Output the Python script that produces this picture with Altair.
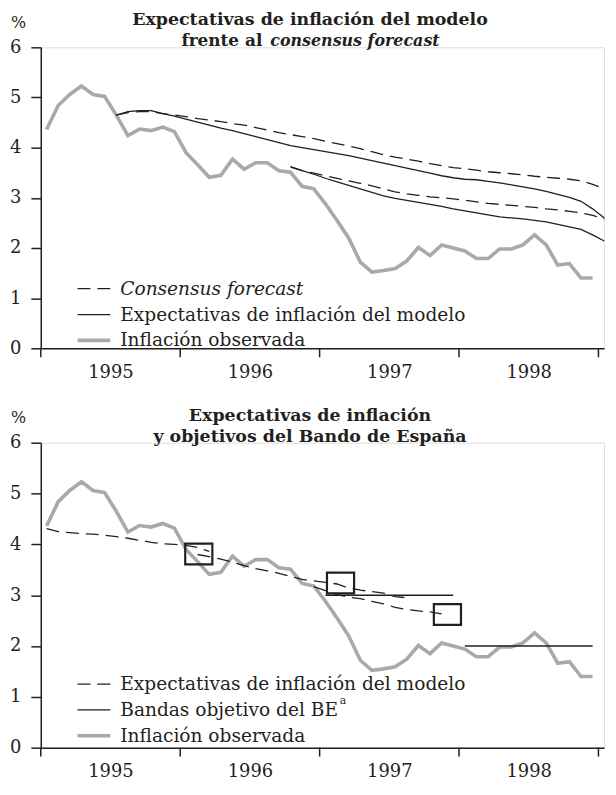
import altair as alt
import pandas as pd

FONT = "DejaVu Serif"
INK = "#231f20"
GREY = "#a7a9ac"

# ---------------- data (month index 0 = Jan 1995, plotted at mid-month) ----------
year_ticks = [1995, 1996, 1997, 1998, 1999]
year_labels = [1995, 1996, 1997, 1998]

observed = [4.36, 4.84, 5.06, 5.23, 5.06, 5.02, 4.65, 4.24, 4.37, 4.34, 4.41, 4.32,
            3.90, 3.66, 3.41, 3.45, 3.77, 3.57, 3.70, 3.70, 3.54, 3.51, 3.23, 3.18,
            2.88, 2.55, 2.20, 1.72, 1.52, 1.55, 1.59, 1.74, 2.01, 1.85, 2.06, 2.00,
            1.94, 1.79, 1.79, 1.98, 1.98, 2.06, 2.26, 2.06, 1.66, 1.69, 1.40, 1.40]

# top panel: model expectations and consensus forecast (two vintages each)
model_a_start = 6
model_a = [4.65, 4.72, 4.74, 4.74, 4.68, 4.63, 4.57, 4.51, 4.45, 4.39, 4.34, 4.28,
           4.22, 4.16, 4.10, 4.04, 4.00, 3.96, 3.92, 3.88, 3.84, 3.79, 3.74, 3.69,
           3.64, 3.59, 3.54, 3.49, 3.44, 3.40, 3.37, 3.36, 3.33, 3.30, 3.26, 3.22,
           3.18, 3.13, 3.07, 3.01, 2.93, 2.78, 2.60]
cons_a_start = 6
cons_a = [4.65, 4.70, 4.72, 4.72, 4.68, 4.65, 4.62, 4.58, 4.55, 4.52, 4.48, 4.45,
          4.40, 4.35, 4.30, 4.26, 4.22, 4.18, 4.13, 4.08, 4.03, 3.98, 3.92, 3.86,
          3.81, 3.77, 3.73, 3.68, 3.64, 3.60, 3.58, 3.55, 3.52, 3.50, 3.48, 3.46,
          3.43, 3.41, 3.39, 3.37, 3.34, 3.27, 3.18]
model_b_start = 21
model_b = [3.62, 3.54, 3.47, 3.39, 3.32, 3.25, 3.18, 3.11, 3.04, 2.99, 2.95, 2.91,
           2.87, 2.83, 2.78, 2.74, 2.70, 2.66, 2.62, 2.60, 2.58, 2.55, 2.52, 2.47,
           2.42, 2.37, 2.26, 2.14]
cons_b_start = 21
cons_b = [3.61, 3.54, 3.49, 3.44, 3.39, 3.34, 3.29, 3.24, 3.18, 3.12, 3.08, 3.05,
          3.02, 3.00, 2.98, 2.95, 2.92, 2.89, 2.87, 2.85, 2.83, 2.81, 2.78, 2.76,
          2.73, 2.70, 2.65, 2.58]

# bottom panel: model expectations (three vintages), BE target bands, target marks
exp_a_start = 0
exp_a = [4.31, 4.25, 4.23, 4.21, 4.20, 4.18, 4.15, 4.12, 4.08, 4.04, 4.01, 4.00,
         3.98, 3.94, 3.86]
exp_b_start = 13
exp_b = [3.80, 3.76, 3.71, 3.65, 3.58, 3.52, 3.48, 3.43, 3.37, 3.31, 3.28, 3.25,
         3.22, 3.14, 3.10, 3.07, 3.04, 2.97, 2.95]
exp_c_start = 23
exp_c = [3.17, 3.09, 3.01, 2.96, 2.93, 2.88, 2.83, 2.76, 2.72, 2.69, 2.67, 2.63]

band_value = [3.0, 2.0]
band_first = [24, 36]
band_last = [35, 47]

target_month = [13.1, 25.3, 34.5]
target_value = [3.81, 3.24, 2.62]


def mx(m):
    return 1995 + (m + 0.5) / 12


def seg(start, vals, name):
    return pd.DataFrame({"x": [mx(start + i) for i in range(len(vals))],
                         "v": vals, "seg": name})


obs_df = seg(0, observed, "obs")
model_df = pd.concat([seg(model_a_start, model_a, "a"), seg(model_b_start, model_b, "b")])
cons_df = pd.concat([seg(cons_a_start, cons_a, "a"), seg(cons_b_start, cons_b, "b")])
exp_df = pd.concat([seg(exp_a_start, exp_a, "a"), seg(exp_b_start, exp_b, "b"),
                    seg(exp_c_start, exp_c, "c")])
band_df = pd.DataFrame({"x": [mx(m) for m in band_first], "x2": [mx(m) for m in band_last],
                        "v": band_value})
target_df = pd.DataFrame({"x": [mx(m) for m in target_month], "v": target_value})
tick_df = pd.DataFrame({"x": year_ticks})

# ---------------- layout ----------------
W = 567
H_TOP = 303
H_BOT = 307

xscale = alt.Scale(domain=[1995, 1999.04], nice=False, zero=False)
yscale = alt.Scale(domain=[0, 6], nice=False)

xaxis = alt.Axis(values=[y + 0.5 for y in year_labels],
                 labelExpr="'' + floor(datum.value)",
                 labelFlush=False, labelOverlap=False, labelBound=False,
                 ticks=False, tickSize=0, labelPadding=15, labelBaseline="top",
                 grid=False, title=None,
                 domainColor=INK, domainWidth=1.5,
                 labelFont=FONT, labelFontSize=18, labelColor=INK)


def yaxis():
    return alt.Axis(values=[0, 1, 2, 3, 4, 5, 6], tickSize=10, labelPadding=10,
                    grid=False, title="%", titleAngle=0, titleX=-23, titleY=-25,
                    titleAlign="center", titleBaseline="middle", titleFont=FONT,
                    titleFontSize=16, titleFontWeight="normal", titleColor=INK,
                    domainColor=INK, tickColor=INK, domainWidth=1.5, tickWidth=1.5,
                    labelFont=FONT, labelFontSize=18, labelColor=INK)


def X():
    return alt.X("x:Q", scale=xscale, axis=xaxis)


def Y():
    return alt.Y("v:Q", scale=yscale, axis=yaxis())


def txt(x, y, s, size=18.7, weight="normal", style="normal", align="left",
        baseline="middle", color=INK):
    return alt.Chart().mark_text(font=FONT, fontSize=size, fontWeight=weight,
                                 fontStyle=style, align=align, baseline=baseline,
                                 color=color).encode(
        x=alt.value(x), y=alt.value(y), text=alt.value(s))


def key(y, dash=None, color=INK, width=1.3):
    kw = dict(color=color, strokeWidth=width)
    if dash:
        kw["strokeDash"] = dash
    return alt.Chart().mark_rule(**kw).encode(
        x=alt.value(37), x2=alt.value(70), y=alt.value(y))


def year_ticks_layer(h):
    return alt.Chart(tick_df).mark_rule(color=INK, strokeWidth=1.5).encode(
        x=X(), y=alt.value(h), y2=alt.value(h + 9))


DASH = [13, 7]
LEG_TOP = [243, 269, 295]
LEG_BOT = [243, 269, 295]

# ---------------- top panel ----------------
top_obs = alt.Chart(obs_df).mark_line(color=GREY, strokeWidth=3.6).encode(x=X(), y=Y())
top_model = alt.Chart(model_df).mark_line(color=INK, strokeWidth=1.3).encode(
    x=X(), y=Y(), detail="seg:N")
top_cons = alt.Chart(cons_df).mark_line(color=INK, strokeWidth=1.3, strokeDash=DASH).encode(
    x=X(), y=Y(), detail="seg:N")

top = alt.layer(
    top_obs, top_model, top_cons, year_ticks_layer(H_TOP),
    txt(271, -22, "Expectativas de inflación del modelo", size=17.5, weight="bold",
        align="center", baseline="alphabetic"),
    txt(223, -1, "frente al", size=17, weight="bold", align="right",
        baseline="alphabetic"),
    txt(231, -1, "consensus forecast", size=16, weight="bold", style="italic",
        baseline="alphabetic"),
    key(LEG_TOP[0], dash=DASH), key(LEG_TOP[1]), key(LEG_TOP[2], color=GREY, width=3.6),
    txt(80, LEG_TOP[0], "Consensus forecast", style="italic"),
    txt(80, LEG_TOP[1], "Expectativas de inflación del modelo"),
    txt(80, LEG_TOP[2], "Inflación observada"),
).properties(width=W, height=H_TOP)

# ---------------- bottom panel ----------------
bot_obs = alt.Chart(obs_df).mark_line(color=GREY, strokeWidth=3.6).encode(x=X(), y=Y())
bot_exp = alt.Chart(exp_df).mark_line(color=INK, strokeWidth=1.3, strokeDash=DASH).encode(
    x=X(), y=Y(), detail="seg:N")
bot_band = alt.Chart(band_df).mark_rule(color=INK, strokeWidth=1.6).encode(
    x=X(), x2="x2:Q", y=Y())
bot_target = alt.Chart(target_df).mark_point(
    shape="M-1.3,-1H1.3V1H-1.3Z", size=441, filled=False, color=INK,
    strokeWidth=2.2, opacity=1).encode(x=X(), y=Y())

bottom = alt.layer(
    bot_obs, bot_exp, bot_band, bot_target, year_ticks_layer(H_BOT),
    txt(271, -22, "Expectativas de inflación", size=17.5, weight="bold",
        align="center", baseline="alphabetic"),
    txt(271, -1, "y objetivos del Bando de España", size=17.5, weight="bold",
        align="center", baseline="alphabetic"),
    key(LEG_BOT[0], dash=DASH), key(LEG_BOT[1]), key(LEG_BOT[2], color=GREY, width=3.6),
    txt(80, LEG_BOT[0], "Expectativas de inflación del modelo"),
    txt(80, LEG_BOT[1], "Bandas objetivo del BE"),
    txt(301, LEG_BOT[1] - 9, "a", size=11),
    txt(80, LEG_BOT[2], "Inflación observada"),
).properties(width=W, height=H_BOT)

chart = alt.vconcat(top, bottom, spacing=95, bounds="flush").properties(
    padding={"left": 1, "top": 0, "right": 0, "bottom": 0}
).configure_view(stroke=None).configure(background="white")

chart.save("out.html", embed_options={"renderer": "svg", "actions": False})
